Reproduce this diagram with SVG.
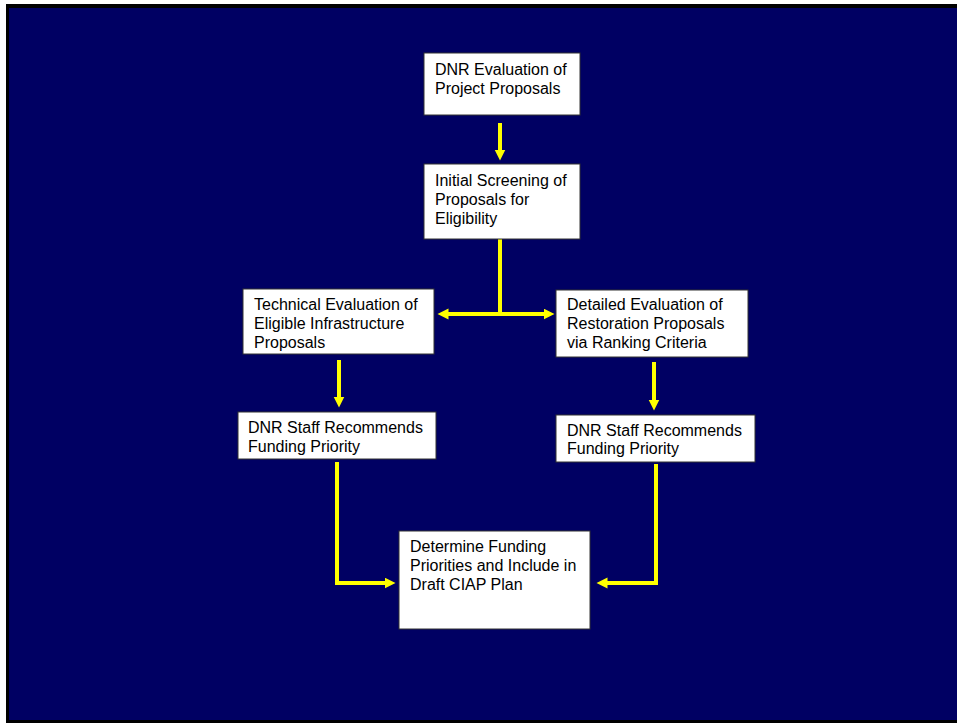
<svg xmlns="http://www.w3.org/2000/svg" width="957" height="723" viewBox="0 0 957 723">
<style>
.box{fill:#ffffff;stroke:#333333;stroke-width:1}
.t{font-family:"Liberation Sans",Arial,sans-serif;font-size:16px;fill:#000000}
.c{fill:none;stroke:#ffff00;stroke-width:4}
</style>
<defs>
<marker id="ah" markerUnits="userSpaceOnUse" markerWidth="12" markerHeight="12" refX="0.5" refY="5.5" orient="auto">
<path d="M0,0 L11,5.5 L0,11 z" fill="#ffff00"/>
</marker>
</defs>
<rect x="0" y="0" width="957" height="723" fill="#ffffff"/>
<rect x="6" y="4" width="951" height="719" fill="#000000"/>
<rect x="9" y="8" width="948" height="712" fill="#000063"/>
<g id="connectors">
<line class="c" x1="500" y1="123" x2="500" y2="150" marker-end="url(#ah)"/>
<line class="c" x1="500" y1="239" x2="500" y2="314"/>
<line class="c" x1="500" y1="314" x2="448" y2="314" marker-end="url(#ah)"/>
<line class="c" x1="500" y1="314" x2="544" y2="314" marker-end="url(#ah)"/>
<line class="c" x1="339" y1="360" x2="339" y2="397" marker-end="url(#ah)"/>
<line class="c" x1="654" y1="362" x2="654" y2="400" marker-end="url(#ah)"/>
<polyline class="c" points="337,462 337,583 385,583" marker-end="url(#ah)"/>
<polyline class="c" points="656,464 656,583 607,583" marker-end="url(#ah)"/>
</g>
<g id="n1">
<rect class="box" x="424" y="53" width="156" height="62"/>
<text class="t" x="435" y="75">DNR Evaluation of</text>
<text class="t" x="435" y="93.5">Project Proposals</text>
</g>
<g id="n2">
<rect class="box" x="424" y="164" width="156" height="75"/>
<text class="t" x="435" y="186">Initial Screening of</text>
<text class="t" x="435" y="205">Proposals for</text>
<text class="t" x="435" y="224">Eligibility</text>
</g>
<g id="n3">
<rect class="box" x="243" y="289" width="191" height="65"/>
<text class="t" x="254" y="309.5">Technical Evaluation of</text>
<text class="t" x="254" y="328.5">Eligible Infrastructure</text>
<text class="t" x="254" y="347.5">Proposals</text>
</g>
<g id="n4">
<rect class="box" x="556" y="290" width="192" height="67"/>
<text class="t" x="567" y="309.5">Detailed Evaluation of</text>
<text class="t" x="567" y="328.5">Restoration Proposals</text>
<text class="t" x="567" y="347.5">via Ranking Criteria</text>
</g>
<g id="n5">
<rect class="box" x="238" y="412" width="198" height="47"/>
<text class="t" x="248" y="433">DNR Staff Recommends</text>
<text class="t" x="248" y="451.5">Funding Priority</text>
</g>
<g id="n6">
<rect class="box" x="556" y="415" width="199" height="47"/>
<text class="t" x="567" y="435.5">DNR Staff Recommends</text>
<text class="t" x="567" y="454">Funding Priority</text>
</g>
<g id="n7">
<rect class="box" x="399" y="531" width="191" height="98"/>
<text class="t" x="410" y="552">Determine Funding</text>
<text class="t" x="410" y="571">Priorities and Include in</text>
<text class="t" x="410" y="589.5">Draft CIAP Plan</text>
</g>
</svg>
